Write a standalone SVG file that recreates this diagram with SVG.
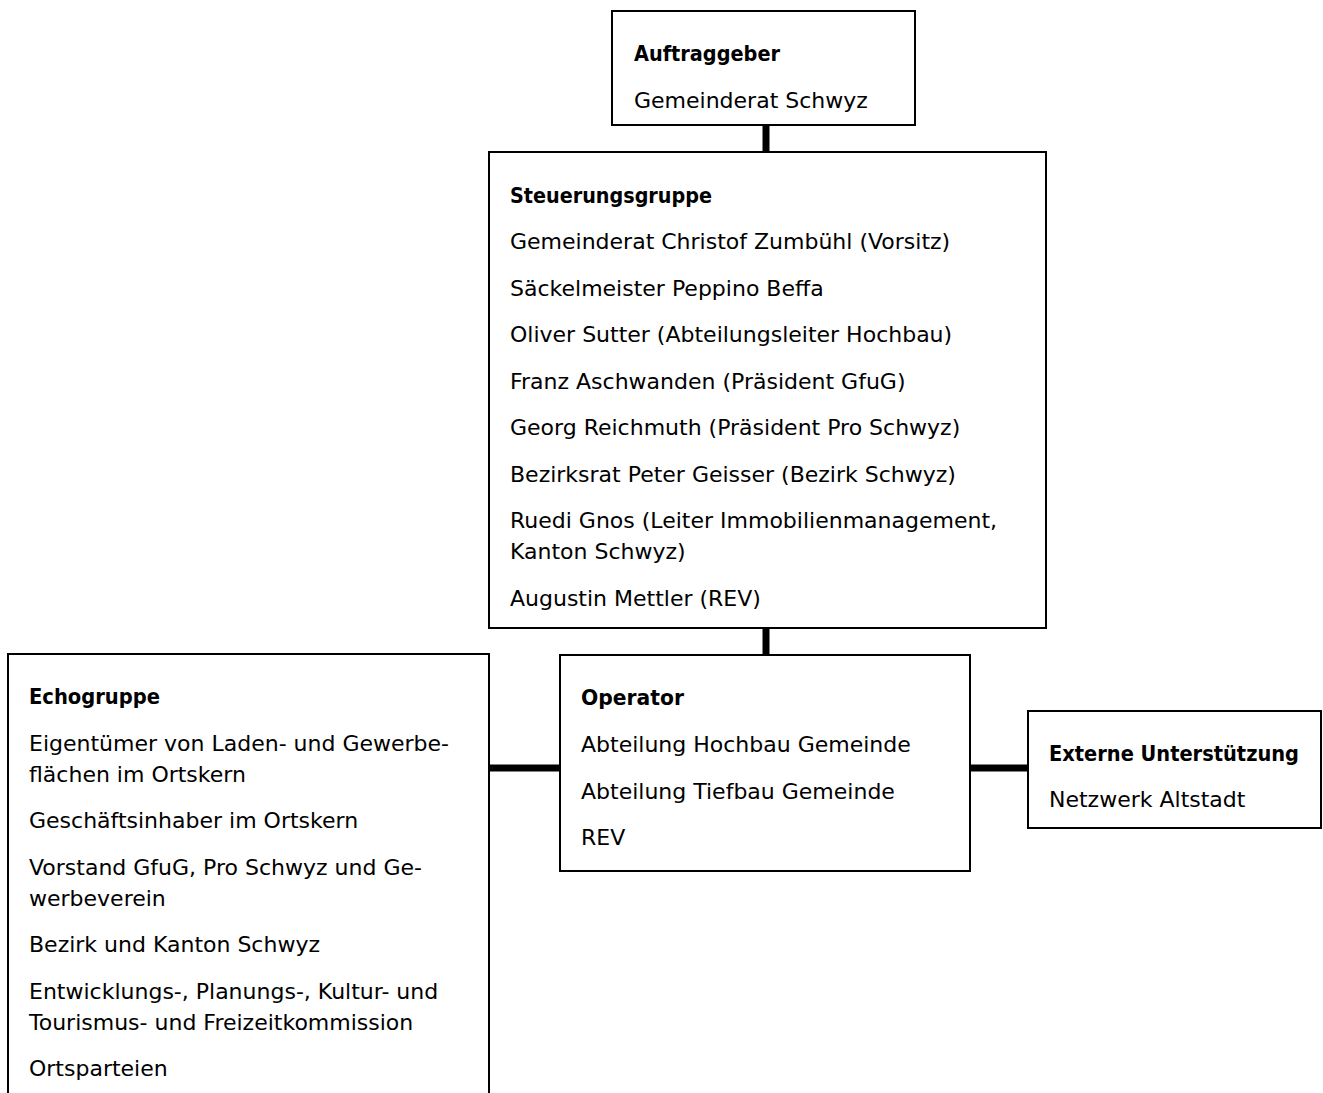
<svg xmlns="http://www.w3.org/2000/svg" width="1323" height="1093" viewBox="0 0 1323 1093">
<style>
.box{fill:#fff;stroke:#000;stroke-width:2}
.c{stroke:#000;stroke-width:7;fill:none}
text{font-family:"DejaVu Sans","Liberation Sans",sans-serif;font-size:22px;fill:#000}
.t{font-weight:bold;font-size:21px}
</style>
<rect width="1323" height="1093" fill="#fff"/>
<g id="connectors">
<line class="c" x1="766" y1="125" x2="766" y2="152"/>
<line class="c" x1="766" y1="628" x2="766" y2="655"/>
<line class="c" x1="489" y1="768" x2="560" y2="768"/>
<line class="c" x1="970" y1="768" x2="1028" y2="768"/>
</g>
<g id="auftraggeber">
<rect class="box" x="612" y="11" width="303" height="114"/>
<text class="t" x="634" y="61" textLength="146" lengthAdjust="spacingAndGlyphs">Auftraggeber</text>
<text x="634" y="108">Gemeinderat Schwyz</text>
</g>
<g id="steuerungsgruppe">
<rect class="box" x="489" y="152" width="557" height="476"/>
<text class="t" x="510" y="203" textLength="202" lengthAdjust="spacingAndGlyphs">Steuerungsgruppe</text>
<text x="510" y="249">Gemeinderat Christof Zumbühl (Vorsitz)</text>
<text x="510" y="296">Säckelmeister Peppino Beffa</text>
<text x="510" y="342">Oliver Sutter (Abteilungsleiter Hochbau)</text>
<text x="510" y="389">Franz Aschwanden (Präsident GfuG)</text>
<text x="510" y="435">Georg Reichmuth (Präsident Pro Schwyz)</text>
<text x="510" y="482">Bezirksrat Peter Geisser (Bezirk Schwyz)</text>
<text x="510" y="528">Ruedi Gnos (Leiter Immobilienmanagement,</text>
<text x="510" y="559">Kanton Schwyz)</text>
<text x="510" y="606">Augustin Mettler (REV)</text>
</g>
<g id="echogruppe">
<rect class="box" x="8" y="654" width="481" height="450"/>
<text class="t" x="29" y="704" textLength="131" lengthAdjust="spacingAndGlyphs">Echogruppe</text>
<text x="29" y="751">Eigentümer von Laden- und Gewerbe-</text>
<text x="29" y="782">flächen im Ortskern</text>
<text x="29" y="828">Geschäftsinhaber im Ortskern</text>
<text x="29" y="875">Vorstand GfuG, Pro Schwyz und Ge-</text>
<text x="29" y="906">werbeverein</text>
<text x="29" y="952">Bezirk und Kanton Schwyz</text>
<text x="29" y="999">Entwicklungs-, Planungs-, Kultur- und</text>
<text x="29" y="1030">Tourismus- und Freizeitkommission</text>
<text x="29" y="1076">Ortsparteien</text>
</g>
<g id="operator">
<rect class="box" x="560" y="655" width="410" height="216"/>
<text class="t" x="581" y="705" textLength="103" lengthAdjust="spacingAndGlyphs">Operator</text>
<text x="581" y="752">Abteilung Hochbau Gemeinde</text>
<text x="581" y="799">Abteilung Tiefbau Gemeinde</text>
<text x="581" y="845">REV</text>
</g>
<g id="externe">
<rect class="box" x="1028" y="711" width="293" height="117"/>
<text class="t" x="1049" y="761" textLength="250" lengthAdjust="spacingAndGlyphs">Externe Unterstützung</text>
<text x="1049" y="807">Netzwerk Altstadt</text>
</g>
</svg>
